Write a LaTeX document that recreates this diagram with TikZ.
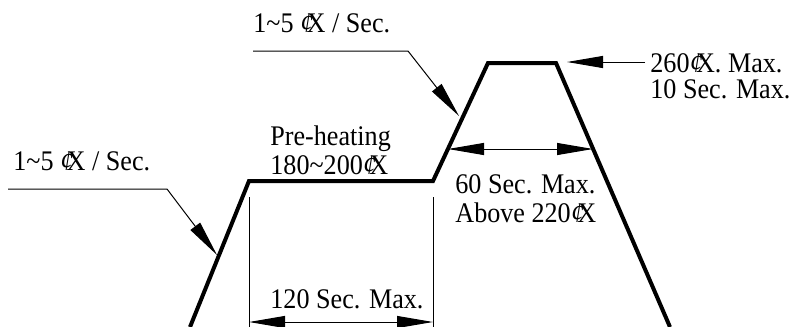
\documentclass[tikz,border=0pt]{standalone}
\usepackage{fontspec}
\setmainfont{Liberation Serif}[FakeStretch=0.92]
\usetikzlibrary{arrows.meta,positioning}
\newcommand{\degX}{\textit{¢}\kern-0.23em X}
\newcommand{\tld}{\textasciitilde}

\begin{document}
\begin{tikzpicture}[x=0.5pt,y=-0.5pt,
  profile/.style={line width=2pt, line join=miter},
  thinline/.style={line width=0.5pt},
  dimline/.style={thinline, {Triangle[length=18pt,width=6pt]}-{Triangle[length=18pt,width=6pt]}},
  leader/.style={thinline, -{Triangle[length=18pt,width=6pt]}},
  lbl/.style={anchor=base west, inner sep=0pt, font=\fontsize{14.2}{16}\selectfont}]
\useasboundingbox (0,0) rectangle (789,327);

% temperature profile
\coordinate (p0) at (190,327);
\coordinate (p1) at (249,181);
\coordinate (p2) at (433,181);
\coordinate (p3) at (488,63);
\coordinate (p4) at (556,63);
\coordinate (p5) at (670,327);
\draw[profile] (p0) -- (p1) -- (p2) -- (p3) -- (p4) -- (p5);

% labels
\node[lbl] (rateA) at (253,32) {1\tld5 \degX{} / Sec.};
\node[lbl] (rateB) at (13,170) {1\tld5 \degX{} / Sec.};
\node[lbl] (preA) at (270,145) {Pre-heating};
\node[lbl] (preB) at (270,174) {180\tld200\degX};
\node[lbl] (peakA) at (650,72) {260\degX. Max.};
\node[lbl] (peakB) at (650,98) {10 Sec. Max.};
\node[lbl] (reflowA) at (455,193) {60 Sec. Max.};
\node[lbl] (reflowB) at (455,222) {Above 220\degX};
\node[lbl] (soak) at (270,308) {120 Sec. Max.};

% leaders
\coordinate (rateAstart) at (253,51);
\coordinate (rateAbend) at (408,51);
\coordinate (rateAtip) at (459,116);
\draw[leader] (rateAstart) -- (rateAbend) -- (rateAtip);
\coordinate (rateBstart) at (8,189);
\coordinate (rateBbend) at (167,189);
\coordinate (rateBtip) at (217,255);
\draw[leader] (rateBstart) -- (rateBbend) -- (rateBtip);
\coordinate (peakstart) at (645,62);
\coordinate (peaktip) at (567,62);
\draw[leader] (peakstart) -- (peaktip);

% dimensions
\coordinate (soakL) at (249,197);
\coordinate (soakR) at (433,197);
\draw[thinline] (soakL) -- ++(0,130);
\draw[thinline] (soakR) -- ++(0,130);
\coordinate (soakdimL) at (249,322);
\coordinate (soakdimR) at (433,322);
\draw[dimline] (soakdimL) -- (soakdimR);
\coordinate (reflowL) at (448,149);
\coordinate (reflowR) at (593,149);
\draw[dimline] (reflowL) -- (reflowR);
\end{tikzpicture}
\end{document}
